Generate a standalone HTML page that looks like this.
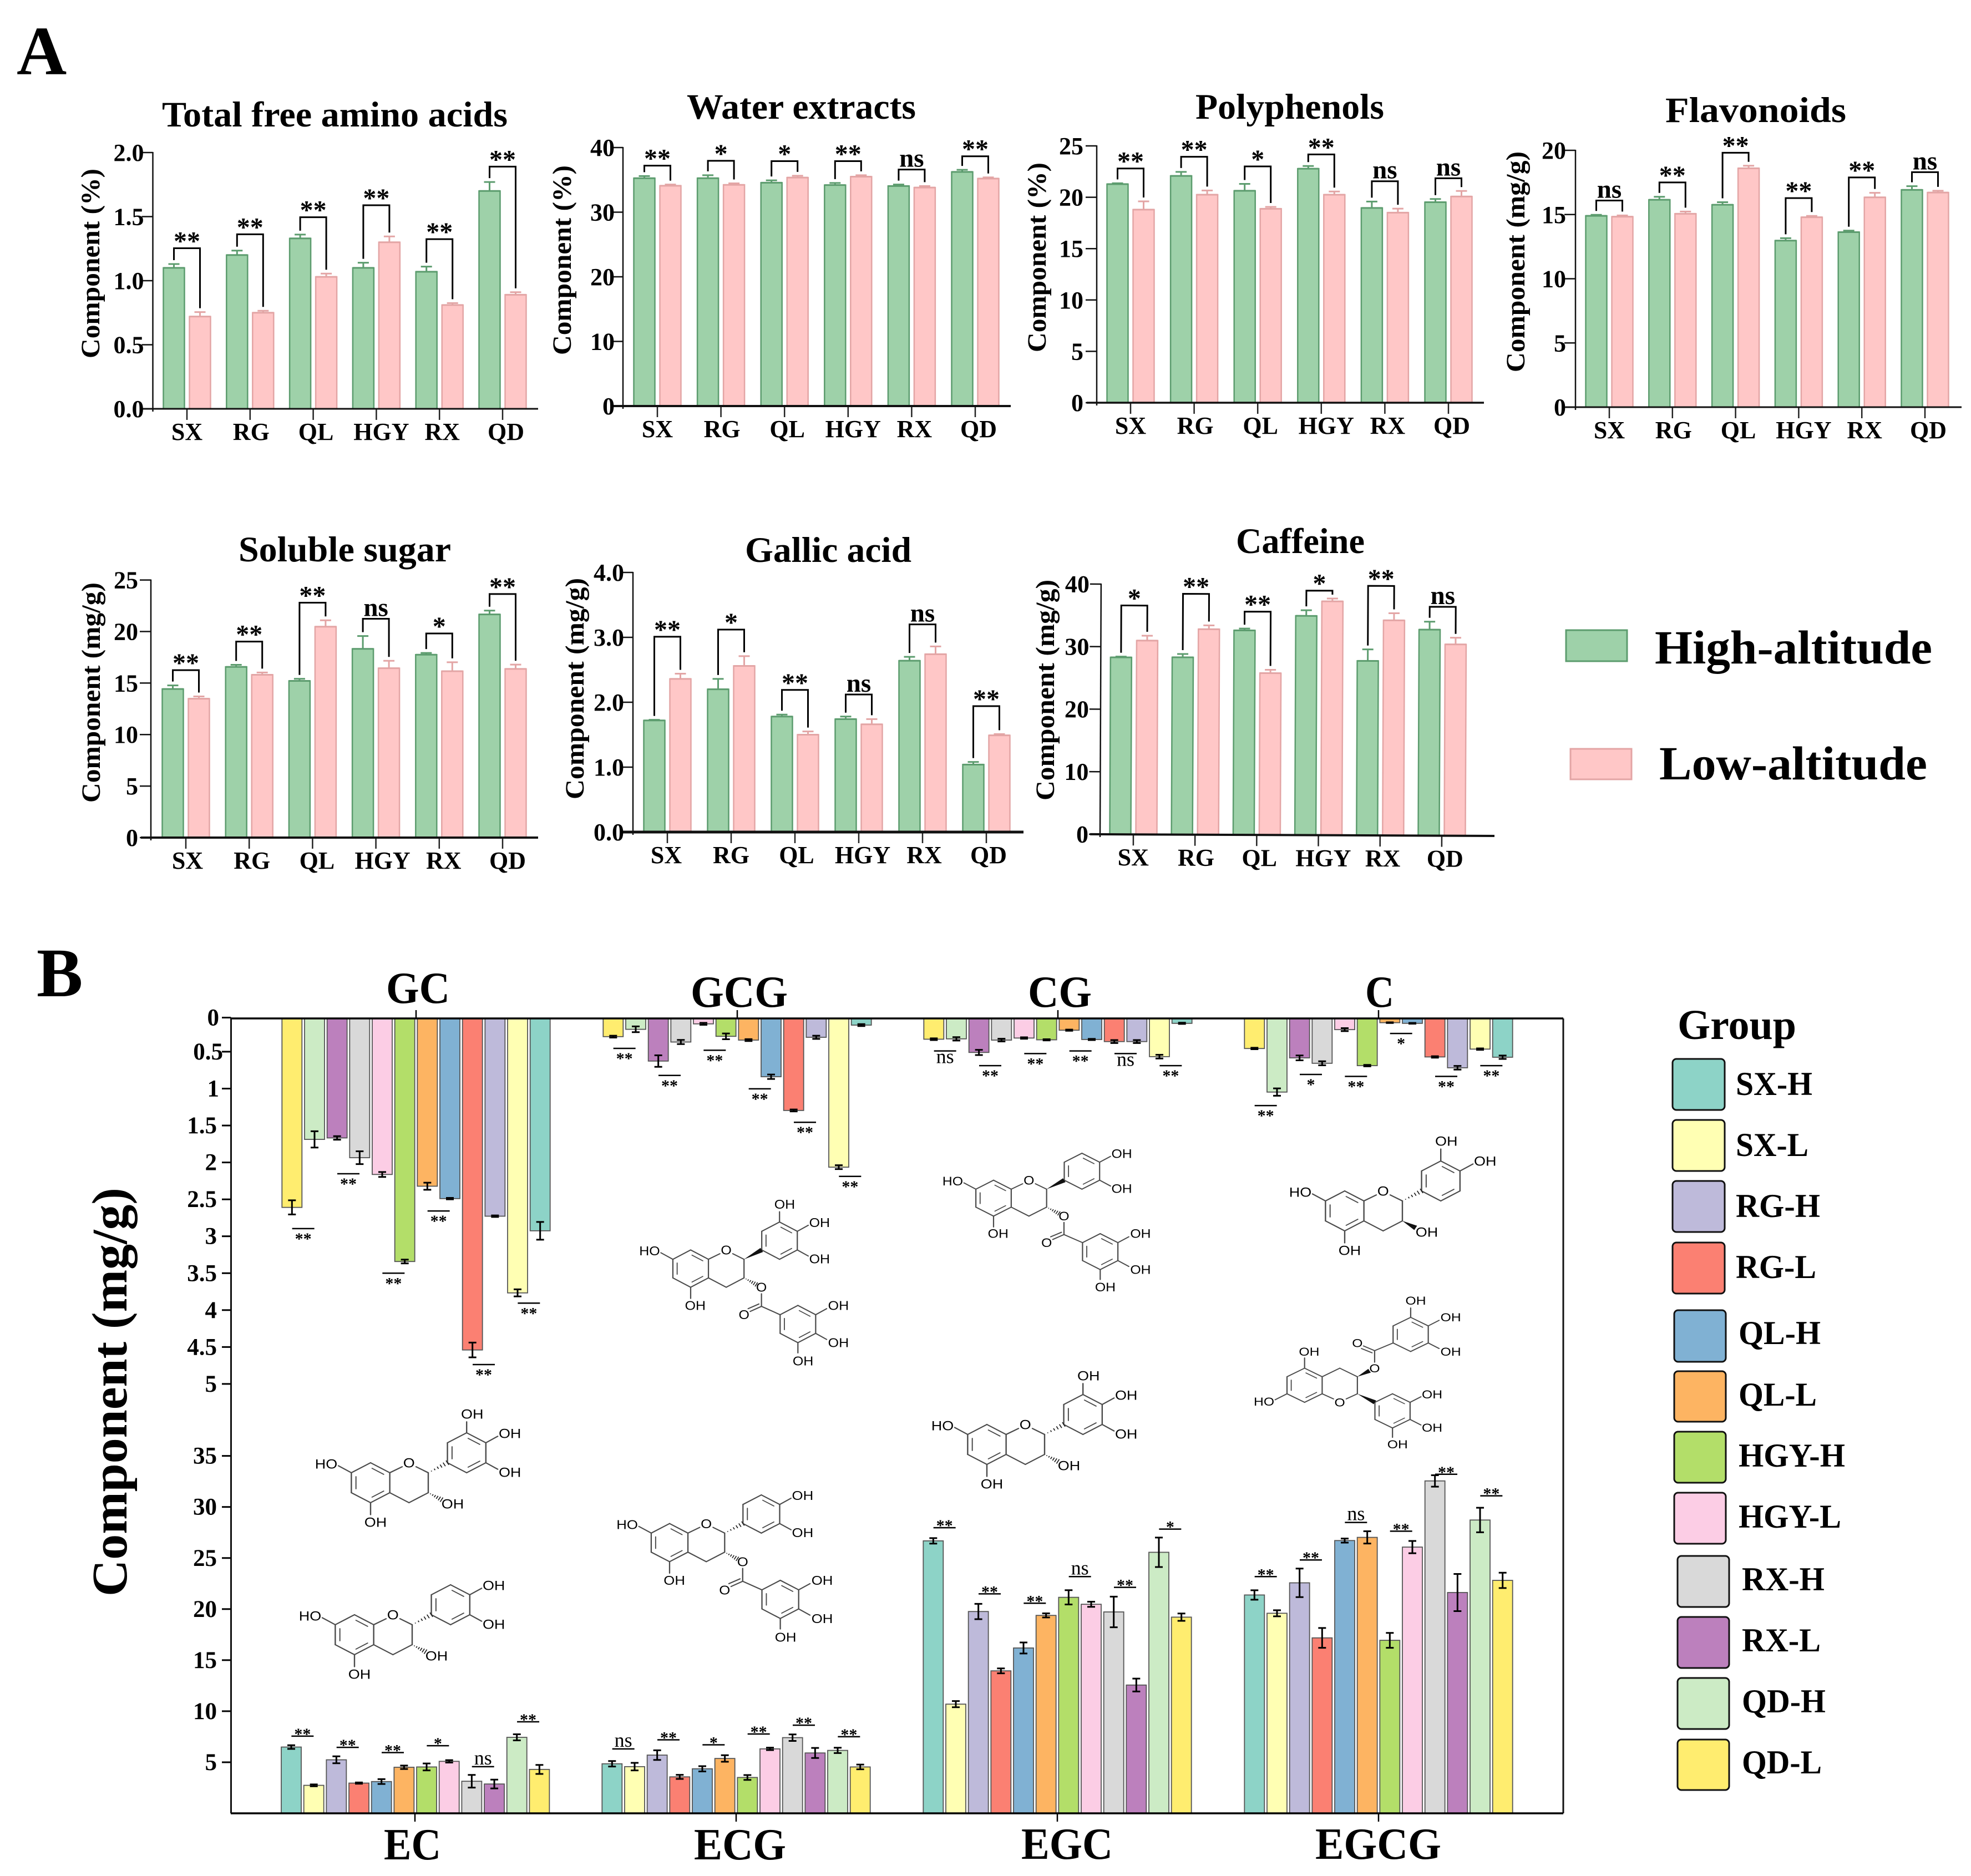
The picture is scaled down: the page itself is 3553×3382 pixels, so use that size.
<!DOCTYPE html>
<html lang="en">
<head>
<meta charset="utf-8">
<title>Tea component chart</title>
<style>
html,body{margin:0;padding:0;background:#fff;}
svg{display:block;}
text{font-family:"Liberation Serif",serif;font-weight:700;fill:#000;}
</style>
</head>
<body>
<svg id="figure" xmlns="http://www.w3.org/2000/svg" width="3553" height="3382" viewBox="0 0 3553 3382">
<rect width="3553" height="3382" fill="#fff"/>
<text x="30" y="134" font-size="125">A</text>
<text x="66" y="1796" font-size="125">B</text>

<text x="292" y="228" font-size="65" textLength="623" lengthAdjust="spacingAndGlyphs">Total free amino acids</text>
<text x="1238" y="214" font-size="65" textLength="413" lengthAdjust="spacingAndGlyphs">Water extracts</text>
<text x="2155" y="214" font-size="65" textLength="340" lengthAdjust="spacingAndGlyphs">Polyphenols</text>
<text x="3002" y="220" font-size="65" textLength="326" lengthAdjust="spacingAndGlyphs">Flavonoids</text>
<text x="430" y="1012" font-size="65" textLength="383" lengthAdjust="spacingAndGlyphs">Soluble sugar</text>
<text x="1343" y="1013" font-size="65" textLength="300" lengthAdjust="spacingAndGlyphs">Gallic acid</text>
<text x="2228" y="997" font-size="65" textLength="232" lengthAdjust="spacingAndGlyphs">Caffeine</text>

<text transform="translate(179,646) rotate(-90)" font-size="48" textLength="342" lengthAdjust="spacingAndGlyphs">Component (%)</text>
<text transform="translate(1029,640) rotate(-90)" font-size="48" textLength="342" lengthAdjust="spacingAndGlyphs">Component (%)</text>
<text transform="translate(1885,635) rotate(-90)" font-size="48" textLength="342" lengthAdjust="spacingAndGlyphs">Component (%)</text>
<text transform="translate(2748,671) rotate(-90)" font-size="48" textLength="398" lengthAdjust="spacingAndGlyphs">Component (mg/g)</text>
<text transform="translate(180,1447) rotate(-90)" font-size="48" textLength="397" lengthAdjust="spacingAndGlyphs">Component (mg/g)</text>
<text transform="translate(1052,1441) rotate(-90)" font-size="48" textLength="399" lengthAdjust="spacingAndGlyphs">Component (mg/g)</text>
<text transform="translate(1900,1443) rotate(-90)" font-size="48" textLength="398" lengthAdjust="spacingAndGlyphs">Component (mg/g)</text>

<g>
<rect x="2823" y="1136" width="110" height="56" fill="#9ed1a9" stroke="#5c9c6e" stroke-width="3"/>
<text x="2983" y="1196" font-size="86" textLength="500" lengthAdjust="spacingAndGlyphs">High-altitude</text>
<rect x="2831" y="1350" width="110" height="55" fill="#ffc7c7" stroke="#e3a5a5" stroke-width="3"/>
<text x="2991" y="1405" font-size="86" textLength="483" lengthAdjust="spacingAndGlyphs">Low-altitude</text>
</g>

<text transform="translate(228,2878) rotate(-90)" font-size="90" textLength="737" lengthAdjust="spacingAndGlyphs">Component (mg/g)</text>

<text x="696" y="1808" font-size="80" textLength="115" lengthAdjust="spacingAndGlyphs">GC</text>
<text x="1245" y="1815" font-size="80" textLength="175" lengthAdjust="spacingAndGlyphs">GCG</text>
<text x="1853" y="1815" font-size="80" textLength="115" lengthAdjust="spacingAndGlyphs">CG</text>
<text x="2461" y="1815" font-size="80" textLength="52" lengthAdjust="spacingAndGlyphs">C</text>
<text x="692" y="3352" font-size="80" textLength="103" lengthAdjust="spacingAndGlyphs">EC</text>
<text x="1251" y="3352" font-size="80" textLength="166" lengthAdjust="spacingAndGlyphs">ECG</text>
<text x="1841" y="3351" font-size="80" textLength="165" lengthAdjust="spacingAndGlyphs">EGC</text>
<text x="2371" y="3351" font-size="80" textLength="227" lengthAdjust="spacingAndGlyphs">EGCG</text>

<g stroke-width="0">
<text x="3024" y="1873" font-size="76" textLength="214" lengthAdjust="spacingAndGlyphs">Group</text>
<rect x="3015" y="1909" width="94" height="92" rx="7" fill="#8dd3c7" stroke="#111" stroke-width="3"/>
<text x="3129" y="1974" font-size="60" textLength="138" lengthAdjust="spacingAndGlyphs">SX-H</text>
<rect x="3015" y="2019" width="94" height="92" rx="7" fill="#ffffb3" stroke="#111" stroke-width="3"/>
<text x="3129" y="2084" font-size="60" textLength="131" lengthAdjust="spacingAndGlyphs">SX-L</text>
<rect x="3015" y="2129" width="94" height="92" rx="7" fill="#bebada" stroke="#111" stroke-width="3"/>
<text x="3129" y="2194" font-size="60" textLength="152" lengthAdjust="spacingAndGlyphs">RG-H</text>
<rect x="3015" y="2240" width="94" height="92" rx="7" fill="#fb8072" stroke="#111" stroke-width="3"/>
<text x="3129" y="2304" font-size="60" textLength="145" lengthAdjust="spacingAndGlyphs">RG-L</text>
<rect x="3018" y="2362" width="93" height="93" rx="7" fill="#80b1d3" stroke="#111" stroke-width="3"/>
<text x="3134" y="2423" font-size="60" textLength="148" lengthAdjust="spacingAndGlyphs">QL-H</text>
<rect x="3018" y="2472" width="93" height="91" rx="7" fill="#fdb462" stroke="#111" stroke-width="3"/>
<text x="3134" y="2534" font-size="60" textLength="141" lengthAdjust="spacingAndGlyphs">QL-L</text>
<rect x="3018" y="2581" width="93" height="92" rx="7" fill="#b3de69" stroke="#111" stroke-width="3"/>
<text x="3134" y="2644" font-size="60" textLength="192" lengthAdjust="spacingAndGlyphs">HGY-H</text>
<rect x="3018" y="2691" width="93" height="92" rx="7" fill="#fccde5" stroke="#111" stroke-width="3"/>
<text x="3134" y="2754" font-size="60" textLength="185" lengthAdjust="spacingAndGlyphs">HGY-L</text>
<rect x="3024" y="2805" width="93" height="92" rx="7" fill="#d9d9d9" stroke="#111" stroke-width="3"/>
<text x="3140" y="2867" font-size="60" textLength="149" lengthAdjust="spacingAndGlyphs">RX-H</text>
<rect x="3024" y="2915" width="93" height="92" rx="7" fill="#bc80bd" stroke="#111" stroke-width="3"/>
<text x="3140" y="2977" font-size="60" textLength="142" lengthAdjust="spacingAndGlyphs">RX-L</text>
<rect x="3024" y="3025" width="93" height="92" rx="7" fill="#ccebc5" stroke="#111" stroke-width="3"/>
<text x="3140" y="3087" font-size="60" textLength="151" lengthAdjust="spacingAndGlyphs">QD-H</text>
<rect x="3024" y="3136" width="93" height="91" rx="7" fill="#ffed6f" stroke="#111" stroke-width="3"/>
<text x="3140" y="3197" font-size="60" textLength="144" lengthAdjust="spacingAndGlyphs">QD-L</text>
</g>
</svg>

<script>
/* ---------- Panel A data ---------- */
const regions = ['SX','RG','QL','HGY','RX','QD'];

const aminoHigh = [1.10,1.20,1.33,1.10,1.07,1.70];
const aminoLow = [0.72,0.75,1.03,1.30,0.81,0.89];
const aminoHighErr = [0.03,0.035,0.03,0.04,0.04,0.07];
const aminoLowErr = [0.035,0.015,0.025,0.045,0.015,0.02];
const aminoBracket = [1.253,1.362,1.495,1.589,1.324,1.89];
const aminoSig = ['**','**','**','**','**','**'];
const aminoTicks = [0,0.5,1,1.5,2];
const aminoTickLabels = ['0.0','0.5','1.0','1.5','2.0'];

const waterHigh = [35.26,35.26,34.56,34.19,34.05,36.23];
const waterLow = [34.09,34.23,35.35,35.49,33.81,35.2];
const waterHighErr = [0.33,0.46,0.37,0.33,0.23,0.33];
const waterLowErr = [0.19,0.23,0.28,0.23,0.23,0.19];
const waterBracket = [37.2,37.95,37.9,37.9,36.6,38.65];
const waterSig = ['**','*','*','**','ns','**'];
const waterTicks = [0,10,20,30,40];
const waterTickLabels = ['0','10','20','30','40'];

const polyHigh = [21.28,22.08,20.63,22.78,18.96,19.52];
const polyLow = [18.8,20.25,18.88,20.25,18.5,20.07];
const polyHighErr = [0.08,0.39,0.67,0.26,0.62,0.31];
const polyLowErr = [0.8,0.41,0.18,0.31,0.39,0.54];
const polyBracket = [22.8,23.94,23.0,24.17,21.56,21.85];
const polySig = ['**','**','*','**','ns','ns'];
const polyTicks = [0,5,10,15,20,25];
const polyTickLabels = ['0','5','10','15','20','25'];

const flavHigh = [14.9,16.15,15.76,12.97,13.63,16.92];
const flavLow = [14.83,15.06,18.6,14.79,16.34,16.71];
const flavHighErr = [0.08,0.23,0.2,0.19,0.12,0.29];
const flavLowErr = [0.1,0.17,0.2,0.1,0.35,0.14];
const flavBracket = [16.09,17.5,19.81,16.28,17.89,18.3];
const flavSig = ['ns','**','**','**','**','ns'];
const flavTicks = [0,5,10,15,20];
const flavTickLabels = ['0','5','10','15','20'];

const sugarHigh = [14.42,16.57,15.21,18.32,17.75,21.66];
const sugarLow = [13.48,15.8,20.47,16.44,16.15,16.37];
const sugarHighErr = [0.35,0.2,0.2,1.24,0.17,0.37];
const sugarLowErr = [0.22,0.22,0.62,0.72,0.87,0.42];
const sugarBracket = [16.25,19.02,22.8,21.24,19.81,23.64];
const sugarSig = ['**','**','**','ns','*','**'];
const sugarTicks = [0,5,10,15,20,25];
const sugarTickLabels = ['0','5','10','15','20','25'];

const gallicHigh = [1.72,2.2,1.78,1.74,2.64,1.04];
const gallicLow = [2.36,2.56,1.5,1.66,2.74,1.49];
const gallicHighErr = [0.01,0.16,0.03,0.04,0.06,0.04];
const gallicLowErr = [0.08,0.15,0.05,0.08,0.12,0.02];
const gallicBracket = [3.01,3.12,2.19,2.12,3.2,1.94];
const gallicSig = ['**','*','**','ns','ns','**'];
const gallicTicks = [0,1,2,3,4];
const gallicTickLabels = ['0.0','1.0','2.0','3.0','4.0'];

const caffeineHigh = [28.3,28.35,32.7,35.06,27.9,32.94];
const caffeineLow = [31,32.86,25.88,37.4,34.4,30.6];
const caffeineHighErr = [0.12,0.53,0.29,0.9,1.84,1.27];
const caffeineLowErr = [0.78,0.61,0.53,0.45,1.14,1.06];
const caffeineBracket = [36.6,38.5,35.7,39.1,39.9,36.6];
const caffeineSig = ['*','**','**','*','**','ns'];
const caffeineTicks = [0,10,20,30,40];
const caffeineTickLabels = ['0','10','20','30','40'];

/* ---------- Panel B data (order: SX-H, SX-L, RG-H, RG-L, QL-H, QL-L, HGY-H, HGY-L, RX-H, RX-L, QD-H, QD-L) ---------- */
const gcValues = [2.926,3.767,2.728,4.54,2.49,2.322,3.342,2.163,1.936,1.668,1.688,2.609];
const gcErr = [0.12,0.048,0.01,0.1,0.01,0.048,0.026,0.033,0.087,0.024,0.11,0.096];
const gcSigLevel = [3.906,4.738,2.658,3.5,2.153,2.896];
const gcSig = ['**','**','**','**','**','**'];

const gcgValues = [0.14,2.064,0.305,1.296,0.839,0.343,0.292,0.123,0.369,0.627,0.197,0.296];
const gcgErr = [0.013,0.026,0.022,0.013,0.03,0.013,0.039,0.013,0.028,0.078,0.039,0.013];
const gcgSigLevel = [2.189,1.456,1.003,0.481,0.822,0.455];
const gcgSig = ['**','**','**','**','**','**'];

const cgValues = [0.116,0.567,0.363,0.363,0.335,0.209,0.339,0.315,0.343,0.51,0.326,0.331];
const cgErr = [0.008,0.025,0.02,0.02,0.008,0.008,0.008,0.01,0.018,0.035,0.023,0.012];
const cgSigLevel = [0.689,0.526,0.49,0.526,0.689,0.49];
const cgSig = ['**','ns','**','**','**','ns'];

const cValues = [0.575,0.465,0.718,0.571,0.116,0.107,0.689,0.201,0.657,0.584,1.047,0.457];
const cErr = [0.023,0.01,0.025,0.01,0.005,0.005,0.01,0.02,0.027,0.033,0.05,0.01];
const cSigLevel = [0.689,0.835,0.253,0.835,0.808,1.23];
const cSig = ['**','**','*','**','*','**'];

const ecValues = [6.49,2.74,5.24,2.96,3.11,4.51,4.54,5.09,3.14,2.87,7.44,4.3];
const ecErr = [0.18,0.09,0.34,0.06,0.24,0.17,0.34,0.12,0.62,0.43,0.3,0.44];
const ecSigLevel = [7.56,6.46,5.95,6.62,4.57,8.96];
const ecSig = ['**','**','**','*','ns','**'];

const ecgValues = [4.85,4.57,5.7,3.57,4.36,5.37,3.51,6.31,7.41,5.91,6.16,4.54];
const ecgErr = [0.27,0.37,0.47,0.2,0.26,0.32,0.24,0.12,0.32,0.49,0.26,0.23];
const ecgSigLevel = [6.31,7.2,6.71,7.77,8.63,7.5];
const ecgSig = ['ns','**','*','**','**','**'];

const egcValues = [26.68,10.69,19.76,13.95,16.19,19.38,21.15,20.47,19.72,12.56,25.56,19.21];
const egcErr = [0.27,0.3,0.75,0.24,0.54,0.2,0.7,0.25,1.5,0.63,1.44,0.36];
const egcSigLevel = [27.97,21.49,20.57,23.18,22.13,27.83];
const egcSig = ['**','**','**','ns','**','*'];

const egcgValues = [21.38,19.59,22.57,17.18,26.71,27.02,16.94,26.07,32.55,21.62,28.72,22.81];
const egcgErr = [0.46,0.3,1.4,0.97,0.2,0.6,0.73,0.6,0.56,1.82,1.2,0.75];
const egcgSigLevel = [23.18,24.81,28.48,27.63,33.2,31.09];
const egcgSig = ['**','**','ns','**','**','**'];

const upperTicks = [0,0.5,1,1.5,2,2.5,3,3.5,4,4.5,5];
const upperTickLabels = ['0','0.5','1','1.5','2','2.5','3','3.5','4','4.5','5'];
const lowerTicks = [5,10,15,20,25,30,35];
const lowerTickLabels = ['5','10','15','20','25','30','35'];
const groupColors = ['#8dd3c7','#ffffb3','#bebada','#fb8072','#80b1d3','#fdb462','#b3de69','#fccde5','#d9d9d9','#bc80bd','#ccebc5','#ffed6f'];

/* ---------- helpers ---------- */
const NS = 'http://www.w3.org/2000/svg';
const root = document.getElementById('figure');
function mk(tag, attrs, parent, txt) {
  const e = document.createElementNS(NS, tag);
  for (const k in attrs) e.setAttribute(k, attrs[k]);
  if (txt !== undefined) e.textContent = txt;
  parent.appendChild(e);
  return e;
}
const GREEN = {fill:'#9ed1a9', stroke:'#5c9c6e'};
const PINK = {fill:'#ffc7c7', stroke:'#e3a5a5'};
const labelNudge = [0,2,5,9,5,6];

function drawBar(g, cx, yFn, val, err, col, w, name) {
  const yv = yFn(val), y0 = yFn(0);
  const el = mk('rect', {x:cx-w/2, y:yv, width:w, height:y0-yv, fill:col.fill, stroke:col.stroke, 'stroke-width':2.5}, g);
  
  
  const top = yFn(val+err);
  const eb = mk('path', {d:`M${cx} ${yv}V${top}M${cx-10} ${top}H${cx+10}M${cx-w/2} ${yv}H${cx+w/2}`, fill:'none', stroke:col.stroke, 'stroke-width':3}, g);
  
  
  return top;
}

function drawSigText(g, x, line, sig, fsStar, fsNs, starDy, nsDy, nsWeight) {
  const isNs = sig === 'ns';
  const t = mk('text', {x:x, y:line + (isNs ? nsDy : starDy), 'font-size':isNs ? fsNs : fsStar, 'text-anchor':'middle', style:'font-weight:' + (isNs ? nsWeight : 700)}, g, sig);
  
  
}

function panelA(p) {
  const g = mk('g', p.rot ? {transform:`rotate(${p.rot} ${p.x0} ${p.y0})`} : {}, root);
  
  
  const y = v => p.y0 - v * (p.y0 - p.yTop) / p.max;
  const xc = i => p.c0 + i * p.step;

  p.high.forEach((v, i) => {
    const c = xc(i), off = 23.5;
    const t1 = drawBar(g, c-off, y, v, p.highErr[i], GREEN, 38, 'bar-high-' + regions[i].toLowerCase());
    const t2 = drawBar(g, c+off, y, p.low[i], p.lowErr[i], PINK, 38, 'bar-low-' + regions[i].toLowerCase());
    const by = y(p.bracket[i]);
    const br = mk('path', {d:`M${c-off} ${t1-7}V${by}H${c+off}V${t2-7}`, fill:'none', stroke:'#000', 'stroke-width':3}, g);
    
    
    drawSigText(g, c, by, p.sig[i], 48, 47, 3, -5, 700);
    const tk = mk('line', {x1:c, x2:c, y1:p.y0, y2:p.y0+20, stroke:'#222', 'stroke-width':2.5}, g);
    
    
    const lb = mk('text', {x:c+labelNudge[i]+(p.ls||0), y:p.y0+56, 'font-size':44, 'text-anchor':'middle'}, g, regions[i]);
    
    
  });

  const ya = mk('line', {x1:p.x0, x2:p.x0, y1:p.yTop-1, y2:p.y0+5, stroke:'#111', 'stroke-width':2.5}, g);
  
  
  const xa = mk('line', {x1:p.x0-18, x2:p.xEnd, y1:p.y0, y2:p.y0, stroke:'#111', 'stroke-width':p.xw}, g);
  
  
  p.ticks.forEach((v, i) => {
    const tk = mk('line', {x1:p.x0-20, x2:p.x0, y1:y(v), y2:y(v), stroke:'#111', 'stroke-width':2.5}, g);
    
    
    const lb = mk('text', {x:p.x0-p.gap, y:y(v)+15, 'font-size':44, 'text-anchor':'end'}, g, p.tickLabels[i]);
    
    
  });
}

[
 {id:'amino-acids', high:aminoHigh, low:aminoLow, highErr:aminoHighErr, lowErr:aminoLowErr, bracket:aminoBracket, sig:aminoSig, ticks:aminoTicks, tickLabels:aminoTickLabels, max:2, x0:275.5, xEnd:970, y0:737, yTop:275, c0:337, step:113.8, xw:3, gap:16},
 {id:'water-extracts', high:waterHigh, low:waterLow, highErr:waterHighErr, lowErr:waterLowErr, bracket:waterBracket, sig:waterSig, ticks:waterTicks, tickLabels:waterTickLabels, max:40, x0:1123, xEnd:1822, y0:732, yTop:266, c0:1185, step:114.6, xw:4, gap:15},
 {id:'polyphenols', high:polyHigh, low:polyLow, highErr:polyHighErr, lowErr:polyLowErr, bracket:polyBracket, sig:polySig, ticks:polyTicks, tickLabels:polyTickLabels, max:25, x0:1977, xEnd:2675, y0:726, yTop:263, c0:2038, step:114.6, xw:3.5, gap:24},
 {id:'flavonoids', high:flavHigh, low:flavLow, highErr:flavHighErr, lowErr:flavLowErr, bracket:flavBracket, sig:flavSig, ticks:flavTicks, tickLabels:flavTickLabels, max:20, x0:2840, xEnd:3536, y0:734, yTop:271, c0:2901, step:113.8, xw:3, gap:17},
 {id:'soluble-sugar', high:sugarHigh, low:sugarLow, highErr:sugarHighErr, lowErr:sugarLowErr, bracket:sugarBracket, sig:sugarSig, ticks:sugarTicks, tickLabels:sugarTickLabels, max:25, x0:272, xEnd:970, y0:1510, yTop:1045.6, c0:335, step:114.2, xw:4, gap:23, ls:3},
 {id:'gallic-acid', high:gallicHigh, low:gallicLow, highErr:gallicHighErr, lowErr:gallicLowErr, bracket:gallicBracket, sig:gallicSig, ticks:gallicTicks, tickLabels:gallicTickLabels, max:4, x0:1141, xEnd:1845, y0:1500, yTop:1032, c0:1203, step:115, xw:5, gap:16, ls:-2},
 {id:'caffeine', high:caffeineHigh, low:caffeineLow, highErr:caffeineHighErr, lowErr:caffeineLowErr, bracket:caffeineBracket, sig:caffeineSig, ticks:caffeineTicks, tickLabels:caffeineTickLabels, max:40, x0:1983, xEnd:2694, y0:1504, yTop:1053, c0:2043, step:111.2, xw:4, gap:21, rot:0.24}
].forEach(panelA);

/* ---------- Panel B ---------- */
const yUpper = v => 1829.4 + v * 133.1;
const yLower = v => 3269 - v * 18.41;
const TOP_AXIS_Y = 1836, TOP_ZERO_TICK_Y = 1834.5;
const STEP = 40.67, BW = 36;
const panelB = mk('g', {}, root);



function catBars(name, center, vals, errs, levels, sigs, upper) {
  const g = mk('g', {}, panelB);
  
  
  const y = upper ? yUpper : yLower;
  const base = upper ? TOP_AXIS_Y : yLower(0);
  const xAt = i => upper ? center + (5.5 - i) * STEP : center + (i - 5.5) * STEP;
  vals.forEach((v, i) => {
    const x = xAt(i), yv = y(v);
    const r = mk('rect', {x:x-BW/2, y:Math.min(yv,base), width:BW, height:Math.abs(base-yv), fill:groupColors[i], stroke:'#555', 'stroke-width':1.8}, g);
    
    
    const a = y(v-errs[i]), b = y(v+errs[i]);
    const e = mk('path', {d:`M${x} ${a}V${b}M${x-7} ${a}H${x+7}M${x-7} ${b}H${x+7}`, fill:'none', stroke:'#000', 'stroke-width':3}, g);
    
    
  });
  levels.forEach((lv, k) => {
    const mid = (xAt(2*k) + xAt(2*k+1)) / 2, ly = y(lv);
    const l = mk('line', {x1:mid-20, x2:mid+20, y1:ly, y2:ly, stroke:'#000', 'stroke-width':2.5}, g);
    
    
    if (upper) drawSigText(g, mid, ly, sigs[k], 30, 36, 28, 22, 400);
    else drawSigText(g, mid, ly, sigs[k], 30, 36, 6, -4, 400);
  });
}
catBars('gc', 750, gcValues, gcErr, gcSigLevel, gcSig, true);
catBars('gcg', 1329, gcgValues, gcgErr, gcgSigLevel, gcgSig, true);
catBars('cg', 1907, cgValues, cgErr, cgSigLevel, cgSig, true);
catBars('c', 2485, cValues, cErr, cSigLevel, cSig, true);
catBars('ec', 748.7, ecValues, ecErr, ecSigLevel, ecSig, false);
catBars('ecg', 1327, ecgValues, ecgErr, ecgSigLevel, ecgSig, false);
catBars('egc', 1906, egcValues, egcErr, egcSigLevel, egcSig, false);
catBars('egcg', 2485, egcgValues, egcgErr, egcgSigLevel, egcgSig, false);

const frame = mk('path', {d:'M2818 1836V3269', fill:'none', stroke:'#111', 'stroke-width':3}, panelB);


const topAxis = mk('line', {x1:416, x2:2818, y1:TOP_AXIS_Y, y2:TOP_AXIS_Y, stroke:'#000', 'stroke-width':3.5}, panelB);


const botAxis = mk('line', {x1:416, x2:2818, y1:3269, y2:3269, stroke:'#000', 'stroke-width':3.5}, panelB);


const leftAxis = mk('line', {x1:416.5, x2:416.5, y1:1834, y2:3269, stroke:'#111', 'stroke-width':3}, panelB);


[750,1329,1907,2485].forEach(x => {
  const t = mk('line', {x1:x, x2:x, y1:1836, y2:1821, stroke:'#000', 'stroke-width':2.5}, panelB);
  
  
});
[748,1327,1906,2485].forEach(x => {
  const t = mk('line', {x1:x, x2:x, y1:3269, y2:3284, stroke:'#000', 'stroke-width':2.5}, panelB);
  
  
});
const tickLabelEnd = s => s === '0.5' ? 402 : (s === '0' || s === '1') ? 395 : 391;
function yTicks(ticks, labels, y) {
  ticks.forEach((v, i) => {
    const ty = y(v);
    const t = mk('line', {x1:400, x2:416, y1:ty, y2:ty, stroke:'#000', 'stroke-width':3}, panelB);
    
    
    const lb = mk('text', {x:tickLabelEnd(labels[i]), y:ty+14, 'font-size':43, 'text-anchor':'end'}, panelB, labels[i]);
    
    
  });
}
yTicks(upperTicks, upperTickLabels, v => v === 0 ? TOP_ZERO_TICK_Y : yUpper(v));
yTicks(lowerTicks, lowerTickLabels, yLower);

/* ---------- Molecule structures ---------- */
const R = 40, AP = 34.64;
const hexAt = (cx, cy) => [[cx,cy-R],[cx+AP,cy-R/2],[cx+AP,cy+R/2],[cx,cy+R],[cx-AP,cy+R/2],[cx-AP,cy-R/2]];

function molecule(m) {
  const f = m.flip ? -1 : 1;
  const g = mk('g', {transform:`translate(${m.cx} ${m.cy}) scale(${m.sx} ${m.sy})`}, root);
  
  
  const line = (a, b, w) => mk('line', {x1:a[0], y1:a[1]*f, x2:b[0], y2:b[1]*f, stroke:'#4a4a4a', 'stroke-width':w || 2.4, 'stroke-linecap':'round'}, g);
  const label = (x, y, s) => {
    const t = mk('text', {x:x, y:y*f+9.5, 'font-size':27, 'text-anchor':'middle', style:'font-family:\'Liberation Sans\',sans-serif;font-weight:400'}, g, s);
    
    
  };
  const ring = (cx, cy) => {
    const v = hexAt(cx, cy);
    v.forEach((a, i) => line(a, v[(i+1)%6]));
    [[0,1],[2,3],[4,5]].forEach(([i,j]) => {
      const inner = p => [cx+(p[0]-cx)*0.76, cy+(p[1]-cy)*0.76];
      const a = inner(v[i]), b = inner(v[j]);
      const sh = (p, q) => [p[0]+(q[0]-p[0])*0.1, p[1]+(q[1]-p[1])*0.1];
      line(sh(a,b), sh(b,a), 2);
    });
    return v;
  };
  const wedge = (a, b, solid) => {
    const dx = b[0]-a[0], dy = (b[1]-a[1])*f, L = Math.hypot(dx,dy), nx = -dy/L, ny = dx/L;
    if (solid) {
      mk('polygon', {points:`${a[0]},${a[1]*f} ${b[0]+nx*5},${b[1]*f+ny*5} ${b[0]-nx*5},${b[1]*f-ny*5}`, fill:'#111'}, g);
    } else {
      for (let k = 1; k <= 6; k++) {
        const t = k/6, w = 5*t, x = a[0]+dx*t, y = a[1]*f+dy*t;
        mk('line', {x1:x+nx*w, y1:y+ny*w, x2:x-nx*w, y2:y-ny*w, stroke:'#222', 'stroke-width':1.8}, g);
      }
    }
  };
  const A = ring(0, 0);
  const C2 = [104,-20], C3 = [104,20], C4 = [69.3,40];
  line([34.64,-20],[57,-32]); line([82,-32],C2); line(C2,C3); line(C3,C4); line(C4,A[2]);
  label(69.3,-40,'O');
  line(A[5],[-58,-34]); label(-80,-38,'HO');
  line(A[3],[0,64]); label(9,79,'OH');
  const bc = [173.2,-60];
  const B = ring(bc[0], bc[1]);
  wedge(C2, B[4], m.c2 === 'solid');
  if (m.bPattern === 'tri') {
    line(B[0],[bc[0],bc[1]-62]); label(bc[0]+10,bc[1]-78,'OH');
    line(B[1],[bc[0]+56,bc[1]-33]); label(bc[0]+78,bc[1]-39,'OH');
    line(B[2],[bc[0]+56,bc[1]+33]); label(bc[0]+78,bc[1]+39,'OH');
  } else if (m.bPattern === 'di') {
    line(B[1],[bc[0]+56,bc[1]-33]); label(bc[0]+78,bc[1]-39,'OH');
    line(B[2],[bc[0]+56,bc[1]+33]); label(bc[0]+78,bc[1]+39,'OH');
  } else {
    line(B[0],[bc[0],bc[1]-64]); label(bc[0]+10,bc[1]-80,'OH');
    line(B[1],[bc[0]+58,bc[1]-34]); label(bc[0]+80,bc[1]-40,'OH');
  }
  if (m.gallate) {
    const gy = 119;
    wedge(C3,[128,34], m.c3 === 'solid');
    label(138,40,'O');
    line([138,54],[138,gy-38]);
    line([138,gy-38],[116,gy-27]); line([133,gy-43],[112,gy-33]);
    label(104,gy-20,'O');
    const Gr = ring(209, gy);
    line([138,gy-38],Gr[5]);
    line(Gr[1],[265,gy-33]); label(288,gy-40,'OH');
    line(Gr[2],[265,gy+33]); label(288,gy+40,'OH');
    line(Gr[3],[209,gy+62]); label(219,gy+79,'OH');
  } else {
    wedge(C3,[128,34], m.c3 === 'solid');
    label(148,42,'OH');
  }
}
[
 {name:'gc', cx:668, cy:2673, sx:1, sy:0.9, bPattern:'tri', c2:'hash', c3:'hash', gallate:false},
 {name:'ec', cx:639, cy:2947, sx:1, sy:0.9, bPattern:'di', c2:'hash', c3:'hash', gallate:false},
 {name:'ecg', cx:1207, cy:2781, sx:0.955, sy:0.86, bPattern:'di', c2:'hash', c3:'hash', gallate:true},
 {name:'gcg', cx:1245, cy:2287, sx:0.925, sy:0.84, bPattern:'tri', c2:'solid', c3:'hash', gallate:true},
 {name:'cg', cx:1791, cy:2160, sx:0.92, sy:0.81, bPattern:'di', c2:'solid', c3:'hash', gallate:true},
 {name:'c', cx:2424, cy:2183, sx:1, sy:0.9, bPattern:'topright', c2:'hash', c3:'solid', gallate:false},
 {name:'egcg', cx:2351.7, cy:2497.3, sx:0.915, sy:0.77, bPattern:'tri', c2:'solid', c3:'solid', gallate:true, flip:true},
 {name:'egc', cx:1779, cy:2604, sx:1, sy:0.9, bPattern:'tri', c2:'hash', c3:'hash', gallate:false}
].forEach(molecule);
</script>
</body>
</html>
